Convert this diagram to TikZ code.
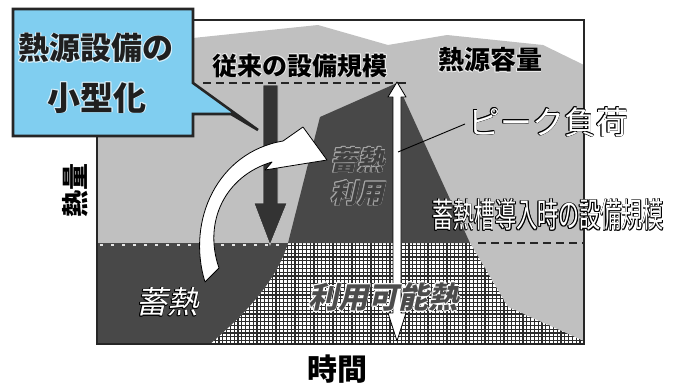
\documentclass[tikz,border=0pt]{standalone}
\usepackage{fontspec}
\newfontfamily\jp{Noto Sans CJK JP}
\newfontfamily\jpit{Noto Sans CJK JP}[FakeSlant=0.22]
\newfontfamily\jpcond{Noto Sans CJK JP}[FakeStretch=0.62]
\definecolor{lightg}{RGB}{192,192,192}
\definecolor{darkg}{RGB}{72,72,72}
\definecolor{gridc}{RGB}{45,45,45}
\definecolor{callblue}{RGB}{128,206,240}
\newcommand\otxt[4]{\leavevmode
 \rlap{\color{#1}\kern#3\relax#4}\rlap{\color{#1}\kern-#3\relax#4}%
 \rlap{\color{#1}\raisebox{#3}{#4}}\rlap{\color{#1}\raisebox{-#3}{#4}}%
 \rlap{\color{#1}\kern#3\relax\raisebox{#3}{#4}}\rlap{\color{#1}\kern-#3\relax\raisebox{#3}{#4}}%
 \rlap{\color{#1}\kern#3\relax\raisebox{-#3}{#4}}\rlap{\color{#1}\kern-#3\relax\raisebox{-#3}{#4}}%
 {\color{#2}#4}}
\tikzset{
 lbl/.style={inner sep=0pt, font=\jp\bfseries\fontsize{#1}{#1}\selectfont},
 whitearrow/.style={fill=white, draw=black, line width=0.8pt, line join=round},
 dashline/.style={line width=1.6pt, dash pattern=on 8pt off 5pt}
}
\begin{document}
\begin{tikzpicture}[x=1pt,y=-1pt]
\useasboundingbox (0,0) rectangle (675,389);
\fill[white] (0,0) rectangle (675,389);
% heat source capacity region
\fill[lightg] (97,38) -- (193,38) -- (318,25) -- (388,45) -- (447,35) -- (543,45) -- (584,65) -- (584,344) -- (97,344) -- cycle;
% usable heat (grid)
\begin{scope}
\clip (210,344) .. controls (240,318) and (275,285) .. (288,243) -- (470,243) -- (508,307) -- (584,341) -- (584,344) -- cycle;
\fill[white] (200,238) rectangle (590,350);
\foreach \gx in {200,203.8,...,590} \draw[gridc, line width=1.3pt] (\gx,238) -- (\gx,350);
\foreach \gy in {238,241.8,...,350} \draw[gridc, line width=1.3pt] (200,\gy) -- (590,\gy);
\end{scope}
% stored heat (left dark)
\fill[darkg] (97,243) -- (288,243) .. controls (275,285) and (240,318) .. (210,344) -- (97,344) -- cycle;
% stored heat use (peak dark)
\fill[darkg] (288,243) -- (320,117) -- (397,83) -- (470,243) -- cycle;
% dashed lines
\draw[dashline, black!85] (203,83) -- (407,83);
\draw[dashline, black!85] (478,243) -- (584,243);
\draw[line width=1.6pt, white!80!gray, dash pattern=on 3pt off 8pt] (100,245) -- (282,245);
% frame
\draw[line width=1.6pt, black!85] (97,20) rectangle (584,344);
% black down arrow
\coordinate (dtop) at (270,83);
\coordinate (dtip) at (270,245);
\filldraw[fill=black!80, draw=gray!40, line width=0.6pt]
 (263,85) -- (278,85) -- (278,203) -- (287,203) -- (dtip) -- (254,203) -- (263,203) -- cycle;
% white double arrow at peak
\coordinate (ptop) at (397,82);
\coordinate (pbot) at (397,341);
\filldraw[whitearrow] (ptop) -- (406,97) -- (401,97) -- (401,313) -- (406,313) -- (pbot) -- (388,313) -- (393,313) -- (393,97) -- (388,97) -- cycle;
% curved white arrow
\coordinate (ctail) at (205,282);
\coordinate (chead) at (327,160);
\filldraw[whitearrow] (ctail) .. controls (186,220) and (218,152) .. (283,141) -- (303,127) -- (chead) -- (265,170) -- (272,162)
 .. controls (225,176) and (203,222) .. (219,268) -- cycle;
% texts
\node[lbl=25] (conv) at (300,66) {\otxt{white!85!gray}{black}{0.5pt}{従来の設備規模}};
\node[lbl=26] (cap) at (490,60) {\otxt{white!85!gray}{black}{0.5pt}{熱源容量}};
\node[inner sep=0pt, font=\jp\fontsize{32}{32}\selectfont] (peak) at (548,122) {\otxt{black}{white}{0.7pt}{ピーク負荷}};
\coordinate (pkend) at (398,152);
\draw[line width=0.9pt, black] (465,124) -- (pkend);
\node[inner sep=0pt, font=\jpcond\fontsize{34}{34}\selectfont] (after) at (548,215) {\otxt{black}{white}{0.7pt}{蓄熱槽導入時の設備規模}};
\node[inner sep=0pt, font=\jpit\bfseries\fontsize{27}{27}\selectfont] (use1) at (357,160) {\otxt{gray!70}{black!75}{0.6pt}{蓄熱}};
\node[inner sep=0pt, font=\jpit\bfseries\fontsize{27}{27}\selectfont] (use2) at (357,193) {\otxt{gray!70}{black!75}{0.6pt}{利用}};
\node[inner sep=0pt, font=\jpit\fontsize{31}{31}\selectfont] (store) at (167,302) {\otxt{black}{white}{0.7pt}{蓄熱}};
\node[inner sep=0pt, font=\jpit\bfseries\fontsize{30}{30}\selectfont] (avail) at (383,297) {\otxt{white}{black!70}{0.7pt}{利用可能熱}};
\node[lbl=27, rotate=90] (qty) at (75,190) {熱量};
\node[lbl=30] (time) at (337,369) {時間};
% callout
\filldraw[fill=callblue, draw=black!85, line width=2.6pt, line join=miter]
 (13,9) -- (193,9) -- (193,83) -- (258,130) -- (231,114) -- (193,114) -- (193,136) -- (13,136) -- cycle;
\node[lbl=31] (c1) at (96,48) {\otxt{white!70!callblue}{black!88}{0.6pt}{熱源設備の}};
\node[lbl=33] (c2) at (97,98) {\otxt{white!70!callblue}{black!88}{0.6pt}{小型化}};
\end{tikzpicture}
\end{document}
